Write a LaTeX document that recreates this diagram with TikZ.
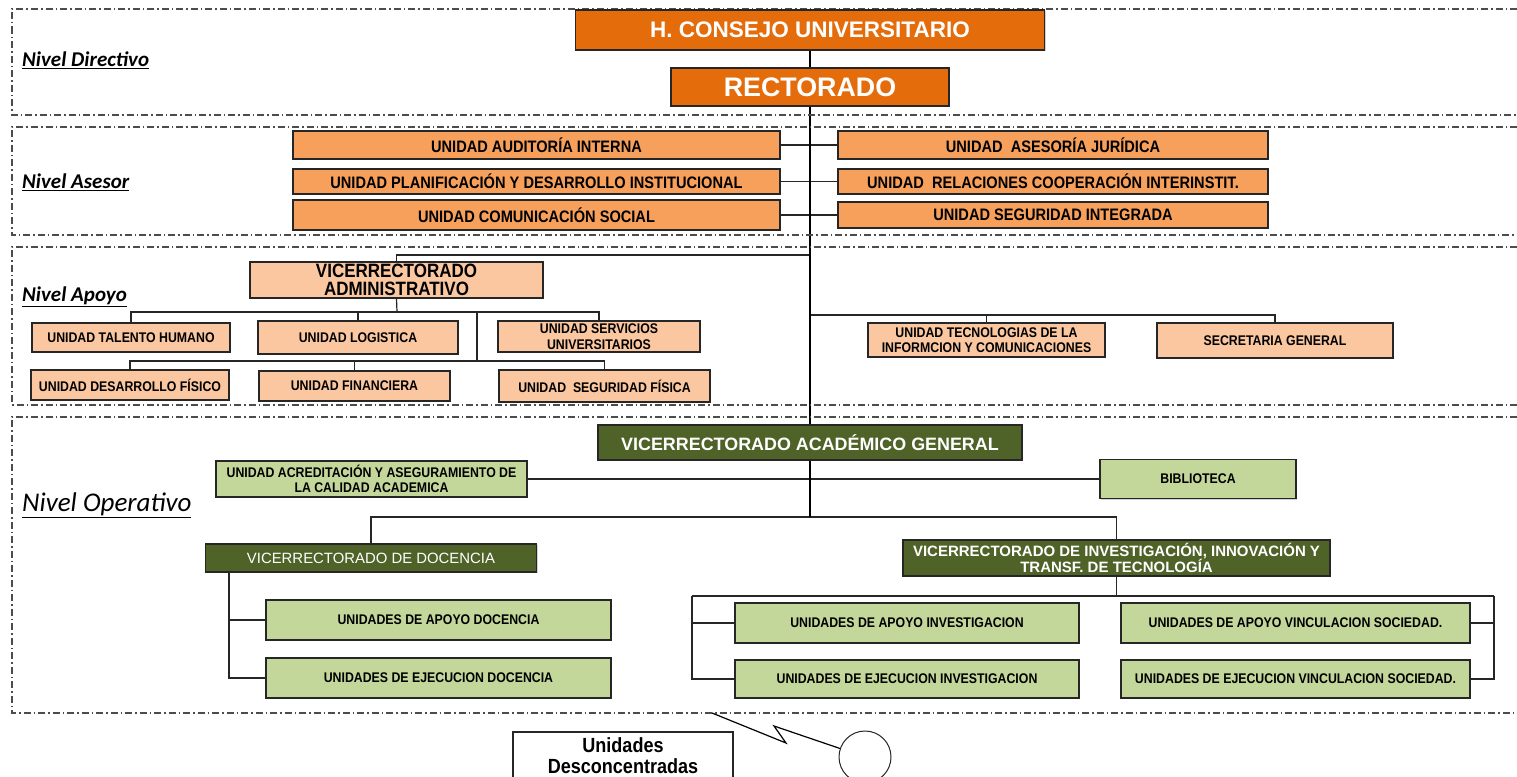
\documentclass[tikz,border=0pt]{standalone}
\usepackage{fontspec}
\setmainfont{Liberation Sans}
\newfontfamily\nar[FakeStretch=0.88]{Liberation Sans}
\newfontfamily\calfont{Carlito}
\usetikzlibrary{shadows}
\definecolor{dorange}{RGB}{228,108,10}
\definecolor{morange}{RGB}{246,160,92}
\definecolor{peach}{RGB}{250,199,160}
\definecolor{olive}{RGB}{79,98,40}
\definecolor{lgreen}{RGB}{196,215,155}
\pgfdeclarelayer{bg}
\pgfsetlayers{bg,main}
\tikzset{
  box/.style={draw=black!85, line width=1.2pt, inner sep=0pt, align=center,
    drop shadow={opacity=0.35, shadow xshift=1.2pt, shadow yshift=-1.2pt}},
  topbox/.style={box, fill=dorange, text=white, line width=1.6pt},
  asebox/.style={box, fill=morange, font=\nar\bfseries\fontsize{16.6}{18}\selectfont},
  apobox/.style={box, fill=peach, font=\nar\bfseries\fontsize{14}{15.5}\selectfont},
  olbox/.style={box, fill=olive, text=white, line width=1.5pt},
  grbox/.style={box, fill=lgreen, font=\nar\bfseries\fontsize{14}{15.5}\selectfont},
  frame/.style={draw=black!70, line width=1.1pt, dash pattern=on 7pt off 3pt on 1.5pt off 3pt},
  lvl/.style={anchor=west, inner sep=0pt, font=\calfont\bfseries\itshape\fontsize{21}{23}\selectfont},
  conn/.style={draw=black!85, line width=1.2pt},
  spine/.style={draw=black, line width=2.6pt}
}
\begin{document}
\begin{tikzpicture}[x=1pt, y=-1pt]
\begin{pgfonlayer}{bg}
\fill[white] (0,0) rectangle (1517,776);
\end{pgfonlayer}
\useasboundingbox (0,0) rectangle (1517,776);

% level frames
\draw[frame] (1517,9) -- (12,9) -- (12,115) -- (1517,115);
\draw[frame] (1517,127) -- (12,127) -- (12,235) -- (1517,235);
\draw[frame] (1517,247) -- (12,247) -- (12,405) -- (1517,405);
\draw[frame] (1517,417) -- (12,417) -- (12,713) -- (1517,713);

% level labels
\node[lvl] (ld) at (22,60) {\underline{Nivel Directivo}};
\node[lvl] (la) at (22,182) {\underline{Nivel Asesor}};
\node[lvl] (lp) at (22,297) {\underline{Nivel Apoyo}};
\node[lvl, font=\calfont\itshape\fontsize{27}{29}\selectfont] (lo) at (22,505) {\underline{Nivel Operativo}};

% directive
\node[topbox, font=\bfseries\fontsize{22.5}{24}\selectfont, minimum width=469pt, minimum height=40pt] (hcu) at (810,30) {H. CONSEJO UNIVERSITARIO};
\node[topbox, font=\bfseries\fontsize{26.8}{28}\selectfont, minimum width=278pt, minimum height=38pt] (rect) at (810,87) {RECTORADO};

% asesor
\node[asebox, minimum width=487pt, minimum height=28pt] (a1) at (536.5,145) {UNIDAD AUDITORÍA INTERNA};
\node[asebox, minimum width=487pt, minimum height=25pt] (a2) at (536.5,181.5) {UNIDAD PLANIFICACIÓN Y DESARROLLO INSTITUCIONAL};
\node[asebox, minimum width=487pt, minimum height=30pt] (a3) at (536.5,215) {UNIDAD COMUNICACIÓN SOCIAL};
\node[asebox, minimum width=430pt, minimum height=28pt] (b1) at (1053,145) {UNIDAD~ ASESORÍA JURÍDICA};
\node[asebox, minimum width=430pt, minimum height=25pt] (b2) at (1053,181.5) {UNIDAD~ RELACIONES COOPERACIÓN INTERINSTIT.};
\node[asebox, minimum width=430pt, minimum height=26pt] (b3) at (1053,215) {UNIDAD SEGURIDAD INTEGRADA};

% apoyo
\node[apobox, font=\nar\bfseries\fontsize{19.3}{17.5}\selectfont, minimum width=293pt, minimum height=36pt] (va) at (396.5,280) {VICERRECTORADO\\ADMINISTRATIVO};
\node[apobox, minimum width=198pt, minimum height=29pt] (th) at (131,337.5) {UNIDAD TALENTO HUMANO};
\node[apobox, minimum width=200pt, minimum height=33pt] (lg) at (358,337.5) {UNIDAD LOGISTICA};
\node[apobox, minimum width=202pt, minimum height=31pt] (su) at (599,336.5) {UNIDAD SERVICIOS\\UNIVERSITARIOS};
\node[apobox, minimum width=198pt, minimum height=30pt] (df) at (130,385) {UNIDAD DESARROLLO FÍSICO};
\node[apobox, minimum width=191pt, minimum height=30pt] (fi) at (354.5,386) {UNIDAD FINANCIERA};
\node[apobox, minimum width=211pt, minimum height=32pt] (sf) at (604.5,386) {UNIDAD~ SEGURIDAD FÍSICA};
\node[apobox, minimum width=237pt, minimum height=34pt] (ti) at (986.5,340) {UNIDAD TECNOLOGIAS DE LA\\INFORMCION Y COMUNICACIONES};
\node[apobox, minimum width=236pt, minimum height=35pt] (sg) at (1275,340.5) {SECRETARIA GENERAL};

% operativo
\node[olbox, font=\bfseries\fontsize{17.9}{19}\selectfont, minimum width=424pt, minimum height=35pt] (vag) at (810,442.5) {VICERRECTORADO ACADÉMICO GENERAL};
\node[grbox, minimum width=311pt, minimum height=36pt] (acr) at (371.5,479) {UNIDAD ACREDITACIÓN Y ASEGURAMIENTO DE\\LA CALIDAD ACADEMICA};
\node[grbox, minimum width=196pt, minimum height=39pt] (bib) at (1198,479) {BIBLIOTECA};
\node[olbox, font=\fontsize{14.9}{16}\selectfont, minimum width=331pt, minimum height=28pt] (vd) at (371,558) {VICERRECTORADO DE DOCENCIA};
\node[olbox, font=\bfseries\fontsize{15}{16.5}\selectfont, minimum width=427pt, minimum height=36pt] (vi) at (1116.5,558) {VICERRECTORADO DE INVESTIGACIÓN, INNOVACIÓN Y\\TRANSF. DE TECNOLOGÍA};
\node[grbox, minimum width=345pt, minimum height=40pt] (ad) at (438.5,620) {UNIDADES DE APOYO DOCENCIA};
\node[grbox, minimum width=345pt, minimum height=40pt] (ed) at (438.5,678) {UNIDADES DE EJECUCION DOCENCIA};
\node[grbox, minimum width=344pt, minimum height=40pt] (ai) at (907,623) {UNIDADES DE APOYO INVESTIGACION};
\node[grbox, minimum width=344pt, minimum height=38pt] (ei) at (907,679) {UNIDADES DE EJECUCION INVESTIGACION};
\node[grbox, minimum width=349pt, minimum height=40pt] (av) at (1295.5,623) {UNIDADES DE APOYO VINCULACION SOCIEDAD.};
\node[grbox, minimum width=349pt, minimum height=38pt] (ev) at (1295.5,679) {UNIDADES DE EJECUCION VINCULACION SOCIEDAD.};

% desconcentradas
\node[draw=black!85, line width=1.2pt, fill=white, align=center, inner sep=0pt,
  font=\nar\bfseries\fontsize{20.5}{21}\selectfont, minimum width=220pt, minimum height=48pt] (ud) at (623,756) {Unidades\\Desconcentradas};
\node[draw=black!85, line width=1pt, circle, minimum size=52pt, inner sep=0pt] (circ) at (865,757) {};

% junction coordinates
\coordinate (jva) at (810,255);
\coordinate (r1) at (397,312);
\coordinate (r1m) at (477,312);
\coordinate (r2) at (477,361);
\coordinate (r3) at (810,315);
\coordinate (r4) at (810,517);
\coordinate (dx) at (229,0);
\coordinate (r5) at (1116.5,596);
\coordinate (lx) at (692,0);
\coordinate (rx) at (1494,0);
\coordinate (l0) at (712,713);
\coordinate (lA) at (786,743);
\coordinate (lB) at (774,726);

\begin{pgfonlayer}{bg}
% asesor rows
\draw[conn] (a1.east) -- (b1.west);
\draw[conn] (a2.east) -- (b2.west);
\draw[conn] (a3.east) -- (b3.west);
% apoyo left
\draw[conn] (jva) -| (va.north);
\draw[conn] (va.south) -- (r1);
\draw[conn] (th.north) |- (r1 -| su.north) -- (su.north);
\draw[conn] (lg.north) -- (lg.north |- r1);
\draw[conn] (r1m) -- (r2);
\draw[conn] (df.north) |- (r2 -| sf.north) -- (sf.north);
\draw[conn] (fi.north) -- (fi.north |- r2);
% apoyo right
\draw[conn] (r3) -| (sg.north);
\draw[conn] (ti.north) -- (ti.north |- r3);
% operativo
\draw[conn] (acr.east) -- (bib.west);
\draw[conn] (vd.north) |- (r4) -| (vi.north);
\draw[conn] (vd.south -| dx) |- (ed.west);
\draw[conn] (ad.west) -- (ad.west -| dx);
\draw[conn] (vi.south) -- (r5);
\draw[conn] (lx |- r5) -- (rx |- r5);
\draw[conn] (lx |- r5) |- (ei.west);
\draw[conn] (ai.west) -- (ai.west -| lx);
\draw[conn] (rx |- r5) |- (ev.east);
\draw[conn] (av.east) -- (av.east -| rx);
% spine
\draw[spine] (hcu.south) -- (r4);
% lightning
\draw[draw=black, line width=1.2pt] (l0) -- (lA) -- (lB) -- (circ);
\end{pgfonlayer}
\end{tikzpicture}
\end{document}
